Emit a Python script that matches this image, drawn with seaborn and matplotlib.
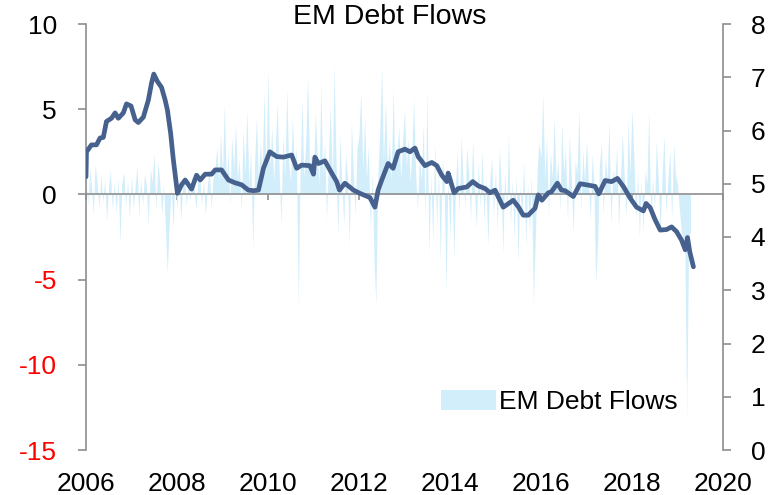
import numpy as np
import pandas as pd
import matplotlib
matplotlib.use("Agg")
import matplotlib.pyplot as plt
import seaborn as sns

# weekly-ish EM debt flows (left axis), two points per month
flows_2006 = [0.8, -0.6, 1.5, 0.4, -1.2, 1.8, 0.6, -0.8, 1.2, -0.5, 0.9, -1.6,
              0.5, 1.4, -0.9, 0.7, -1.1, 1.0, -2.9, 0.6, 1.3, -0.7, 0.8, -1.4]
flows_2007 = [1.1, -0.8, 0.6, 1.7, -1.3, 0.9, -0.6, 1.2, 0.5, -1.8, 1.5, 0.7,
              2.4, -0.9, 1.9, 0.8, -1.2, 0.6, -2.2, -4.6, -1.5, 0.4, -2.0, 0.9]
flows_2008 = [-0.8, 1.0, -1.5, 0.6, 1.2, -0.7, 0.9, -0.4, 1.1, 0.5, -0.9, 0.7,
              1.3, -0.6, 0.8, -1.2, 0.5, 1.6, -0.8, 0.9, 1.4, 2.8, 0.7, 3.6]
flows_2009 = [1.2, 5.3, 0.8, 2.5, -0.7, 3.4, 1.5, 4.2, 0.9, 2.1, -1.0, 3.8,
              1.2, 5.0, 0.6, 2.6, -3.3, 1.8, 4.6, 0.9, 3.1, 1.4, 6.0, 1.1]
flows_2010 = [7.3, 1.6, 3.9, 0.8, 2.7, 5.4, 1.2, -1.8, 3.5, 1.0, 6.2, 2.0,
              0.7, 4.5, 1.5, 2.8, -6.6, 1.1, 5.6, 0.9, 3.3, 7.0, 1.4, 2.4]
flows_2011 = [1.0, 4.8, 2.2, 0.6, 6.5, 1.3, 3.0, -1.5, 2.1, 5.2, 1.0, 7.6,
              1.8, -2.5, 3.6, 0.8, -1.8, 2.4, 1.0, -3.0, 4.2, 1.5, -1.2, 2.6]
flows_2012 = [3.5, 6.0, 1.4, 4.6, 0.9, 2.8, -2.2, 1.3, -4.0, -6.4, 1.2, 3.7,
              7.4, 2.0, 5.5, 1.6, 3.2, 0.8, 6.2, 1.4, 2.5, 4.0, 0.9, 3.0]
flows_2013 = [5.0, 1.6, 3.3, 0.7, 2.6, 5.6, 1.1, -0.9, 2.4, 0.8, 4.1, -1.5,
              6.1, -3.5, 1.2, -2.8, 3.0, -1.9, 1.5, -4.0, 2.2, 0.6, -5.8, 1.0]
flows_2014 = [-2.5, 1.2, -3.8, 0.8, 2.5, -1.2, 3.4, 0.9, -0.7, 2.8, 1.1, -1.5,
              3.2, 0.6, -2.0, 1.9, -0.8, 2.6, -1.6, 1.0, -3.0, 0.7, 2.2, -1.3]
flows_2015 = [1.5, -2.2, 2.8, 0.6, -3.5, 1.3, -1.0, 3.6, -1.8, 0.8, -2.6, 1.2,
              -4.0, 0.5, -1.4, 2.0, -3.1, 0.7, -2.3, 1.1, -6.4, -3.0, 1.4, 3.0]
flows_2016 = [2.2, 5.9, 0.9, 3.4, -1.2, 2.5, 1.0, 4.6, 0.8, 2.0, -0.9, 4.2,
              1.3, 2.7, -1.6, 3.5, 0.9, -2.4, 2.0, 1.2, 5.0, -1.0, 2.6, 0.8]
flows_2017 = [3.2, 1.0, -1.5, 2.4, 0.7, -5.2, -2.8, 1.8, 3.0, -1.2, 2.2, 0.8,
              4.3, -1.8, 1.5, 0.6, 2.8, -2.0, 1.0, 3.6, 0.9, -1.4, 4.4, 1.2]
flows_2018 = [5.0, 2.4, -1.5, 1.3, -2.6, 0.8, -2.2, 1.4, 0.6, 4.9, -1.8, 1.0,
              -0.9, 3.2, 0.7, -2.3, 1.4, 3.5, -1.1, 0.8, 2.6, -1.5, 3.0, 1.2]
flows_2019 = [0.6, -0.8, -2.2, -2.6, -3.0, -13.3, -2.5, -2.2]

flows = (flows_2006 + flows_2007 + flows_2008 + flows_2009 + flows_2010 +
         flows_2011 + flows_2012 + flows_2013 + flows_2014 + flows_2015 +
         flows_2016 + flows_2017 + flows_2018 + flows_2019)

# right axis line (year, value)
line_years = [2006.00, 2006.01, 2006.12, 2006.23, 2006.31, 2006.38, 2006.45, 2006.56, 2006.64, 2006.71, 2006.82, 2006.89, 2006.99,
              2007.08, 2007.15, 2007.26, 2007.37, 2007.44, 2007.49, 2007.57, 2007.66, 2007.74, 2007.79, 2007.86, 2007.92,
              2008.01, 2008.10, 2008.18, 2008.32, 2008.43, 2008.51, 2008.62, 2008.76, 2008.84, 2008.98,
              2009.13, 2009.27, 2009.42, 2009.57, 2009.68, 2009.79, 2009.90,
              2010.04, 2010.19, 2010.34, 2010.52, 2010.63, 2010.74, 2010.92,
              2011.00, 2011.03, 2011.11, 2011.25, 2011.40, 2011.51, 2011.57, 2011.69, 2011.88,
              2012.02, 2012.24, 2012.35, 2012.42, 2012.50, 2012.64, 2012.75, 2012.86,
              2013.01, 2013.12, 2013.23, 2013.30, 2013.45, 2013.60, 2013.71, 2013.82, 2013.93, 2013.96,
              2014.09, 2014.18, 2014.37, 2014.50, 2014.62, 2014.77, 2014.88, 2014.99,
              2015.17, 2015.39, 2015.50, 2015.61, 2015.72, 2015.87, 2015.94,
              2016.02, 2016.16, 2016.23, 2016.36, 2016.45, 2016.53, 2016.71, 2016.86,
              2017.00, 2017.19, 2017.27, 2017.41, 2017.55, 2017.68, 2017.81, 2017.96,
              2018.10, 2018.25, 2018.31, 2018.40, 2018.51, 2018.62, 2018.76, 2018.87, 2018.98,
              2019.09, 2019.17, 2019.22, 2019.27, 2019.35]
line_values = [5.13, 5.60, 5.73, 5.73, 5.86, 5.87, 6.17, 6.23, 6.33, 6.23, 6.33, 6.50, 6.46,
               6.20, 6.15, 6.25, 6.57, 6.89, 7.06, 6.92, 6.81, 6.57, 6.38, 5.95, 5.45,
               4.82, 4.98, 5.07, 4.90, 5.16, 5.07, 5.18, 5.18, 5.26, 5.26,
               5.07, 5.02, 4.98, 4.88, 4.87, 4.88, 5.29,
               5.60, 5.51, 5.50, 5.54, 5.29, 5.35, 5.34,
               5.18, 5.50, 5.38, 5.43, 5.20, 5.04, 4.88, 5.01, 4.88,
               4.82, 4.74, 4.56, 4.88, 5.07, 5.38, 5.29, 5.60,
               5.65, 5.60, 5.67, 5.51, 5.34, 5.40, 5.34, 5.16, 5.04, 5.20,
               4.83, 4.91, 4.94, 5.04, 4.96, 4.91, 4.83, 4.88,
               4.56, 4.69, 4.57, 4.41, 4.41, 4.54, 4.79,
               4.69, 4.83, 4.85, 5.01, 4.88, 4.87, 4.76, 5.00,
               4.98, 4.95, 4.81, 5.06, 5.04, 5.10, 4.95, 4.73,
               4.56, 4.49, 4.63, 4.55, 4.32, 4.13, 4.14, 4.19, 4.10,
               3.94, 3.76, 3.99, 3.72, 3.44]

left_ticks = [-15, -10, -5, 0, 5, 10]
right_ticks = [0, 1, 2, 3, 4, 5, 6, 7, 8]
year_ticks = [2006, 2008, 2010, 2012, 2014, 2016, 2018, 2020]

AREA = "#d3eefb"
LINE = "#46618d"
GREY = "#8e8e8e"
FS = 19

sns.set_theme(style="ticks")
plt.rcParams["font.family"] = ["Liberation Sans", "DejaVu Sans"]
plt.rcParams["axes.unicode_minus"] = False
plt.rcParams["text.color"] = "black"

# semi-monthly dates -> decimal years
dates = pd.date_range("2006-01-01", periods=len(flows), freq="SMS")
flow_x = dates.year + (dates.dayofyear - 1) / 365.0

fig = plt.figure(figsize=(7.71, 4.95), dpi=100)
ax = fig.add_axes([86 / 771, 45 / 495, 637 / 771, 426 / 495])

ax.fill_between(flow_x, flows, 0, color=AREA, linewidth=0, label="EM Debt Flows")
ax.set_xlim(2006, 2020)
ax.set_ylim(-15, 10)
ax.set_yticks(left_ticks)
ax.set_yticklabels([str(t) for t in left_ticks])
ax.set_xticks(year_ticks)
ax.set_xticklabels([str(y) for y in year_ticks])

ax.spines["top"].set_visible(False)
ax.spines["right"].set_visible(False)
ax.spines["bottom"].set_position(("data", 0))
for s in ["left", "bottom"]:
    ax.spines[s].set_color(GREY)
    ax.spines[s].set_linewidth(1.2)
ax.tick_params(axis="y", direction="out", length=6, width=1.2, color=GREY,
               pad=15, labelsize=FS, labelcolor="black")
ax.tick_params(axis="x", direction="out", length=4, width=1.2, color=GREY,
               pad=196, labelsize=FS, labelcolor="black")
for lbl, t in zip(ax.get_yticklabels(), left_ticks):
    lbl.set_color("red" if t < 0 else "black")

ax2 = ax.twinx()
sns.lineplot(x=line_years, y=line_values, ax=ax2, color=LINE, linewidth=3.4)
ax2.set_ylim(0, 8)
ax2.set_yticks(right_ticks)
ax2.set_xlim(2006, 2020)
for s in ["top", "left", "bottom"]:
    ax2.spines[s].set_visible(False)
ax2.spines["right"].set_color(GREY)
ax2.spines["right"].set_linewidth(1.2)
ax2.tick_params(axis="y", direction="out", length=6, width=1.2, color=GREY,
                pad=14, labelsize=FS, labelcolor="black")
ax2.set_xlabel("")
ax2.set_ylabel("")

ax.legend(loc="lower right", bbox_to_anchor=(0.962, 0.035), frameon=True,
          facecolor="white", edgecolor="white", framealpha=1, fancybox=False,
          fontsize=FS, handlelength=2.1, handleheight=0.8, borderpad=0.3,
          handletextpad=0.1)

ax.text(0.477, 1.016, "EM Debt Flows", transform=ax.transAxes, ha="center",
        va="center", fontsize=20.5)

fig.savefig("out.png", dpi=100)
